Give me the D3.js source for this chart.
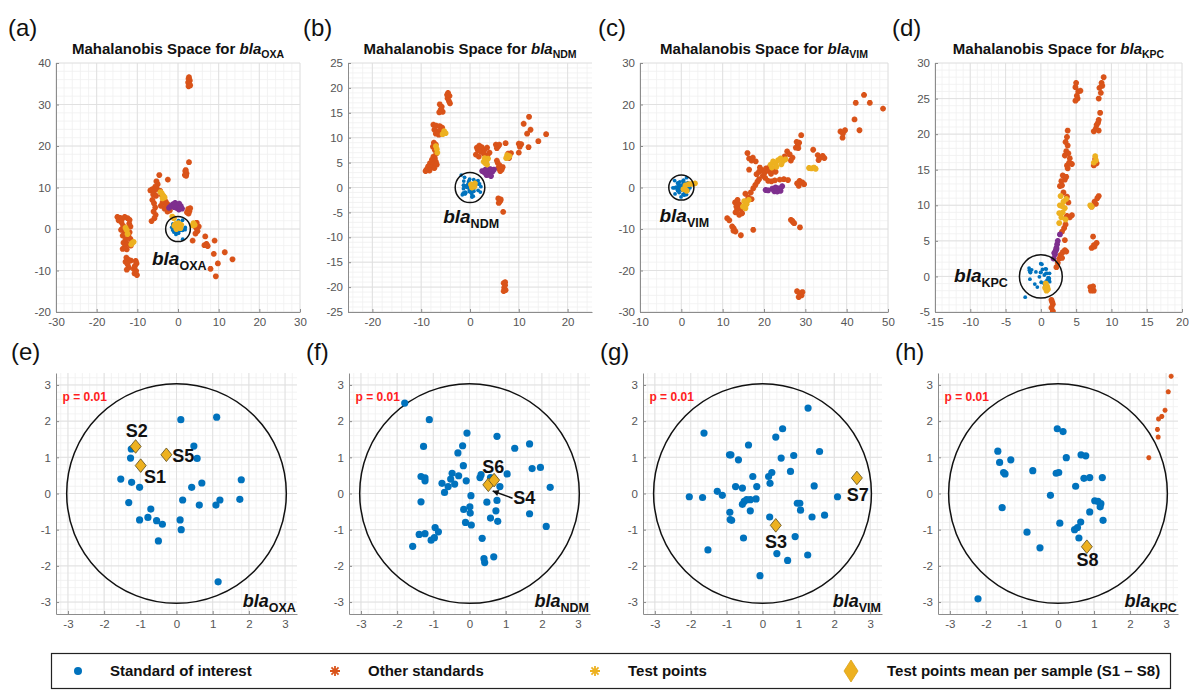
<!DOCTYPE html>
<html><head><meta charset="utf-8">
<script src="https://cdn.jsdelivr.net/npm/d3@7"></script>
<style>
body{margin:0;background:#fff}
svg{display:block}
text{font-family:'Liberation Sans',Arial,Helvetica,sans-serif}
</style>
</head><body>
<svg id="c" width="1189" height="691"></svg>
<script>
// ---------------- DATA ----------------
// Standard of interest (blue), Mahalanobis coordinates (same points in top & bottom views)
const blueOXA = [[0.12,2.04],[1.11,2.11],[-1.25,1.23],[-1.27,0.98],[0.48,1.31],[0.57,0.97],[-1.54,0.40],[-1.24,0.31],[-1.02,0.17],[0.42,0.17],[0.70,0.29],[1.79,0.38],[0.17,-0.18],[0.63,-0.32],[1.09,-0.32],[1.20,-0.18],[1.75,-0.16],[-1.32,-0.25],[-0.71,-0.43],[-1.02,-0.73],[-0.79,-0.66],[-0.55,-0.75],[-0.39,-0.85],[0.10,-0.73],[0.13,-1.00],[-0.50,-1.31],[1.15,-2.44]];
const blueNDM = [[-1.79,2.50],[-1.11,2.04],[-0.07,1.67],[0.76,1.58],[-1.27,1.30],[-0.19,1.32],[-0.32,1.12],[1.25,1.25],[1.66,1.37],[-0.17,0.77],[1.73,0.69],[1.96,0.72],[-1.34,0.47],[-1.23,0.43],[-1.23,0.35],[-0.48,0.56],[-0.30,0.49],[-0.52,0.40],[-0.41,0.26],[-0.59,0.19],[-0.76,0.28],[-0.69,0.03],[-0.09,0.35],[0.29,0.44],[0.32,0.52],[0.58,0.44],[1.04,0.54],[0.84,0.19],[2.23,0.17],[0.04,-0.06],[-1.34,-0.23],[0.48,-0.24],[0.76,-0.19],[0.01,-0.37],[-0.16,-0.44],[0.02,-0.54],[0.73,-0.48],[1.66,-0.56],[0.58,-0.68],[0.78,-0.77],[-0.11,-0.80],[0.05,-0.87],[2.12,-0.91],[-0.95,-0.94],[-0.86,-1.06],[-1.39,-1.13],[-1.23,-1.11],[-0.97,-1.22],[-1.06,-1.29],[0.35,-1.24],[-1.57,-1.46],[0.40,-1.80],[0.42,-1.91],[0.67,-1.75]];
const blueVIM = [[1.27,2.36],[-1.63,1.67],[0.56,1.79],[0.37,1.56],[-0.39,1.34],[-0.92,1.07],[-0.88,1.07],[-0.67,0.93],[0.52,0.98],[0.87,1.05],[1.59,1.16],[0.78,0.61],[-0.27,0.47],[0.26,0.58],[0.17,0.47],[0.21,0.28],[-0.16,0.19],[-0.75,0.19],[-0.56,0.15],[1.44,0.21],[-1.26,0.06],[-1.12,-0.05],[-2.04,-0.09],[-1.67,-0.11],[-0.44,-0.17],[-0.34,-0.17],[-0.18,-0.15],[-0.51,-0.22],[-0.56,-0.30],[2.09,-0.09],[0.97,-0.27],[1.04,-0.27],[1.06,-0.46],[-0.34,-0.48],[-0.91,-0.52],[-0.90,-0.72],[-0.86,-0.74],[0.20,-0.65],[1.38,-0.65],[1.73,-0.60],[-0.53,-1.23],[0.91,-1.19],[-1.52,-1.56],[0.40,-1.66],[0.70,-1.85],[1.26,-1.70],[-0.07,-2.27]];
const blueKPC = [[-0.02,1.79],[0.14,1.71],[-1.67,1.17],[-1.62,0.86],[-1.31,0.93],[0.23,0.99],[0.64,1.07],[0.77,1.04],[-1.51,0.58],[-1.47,0.54],[-0.70,0.63],[-0.05,0.56],[0.02,0.58],[0.72,0.42],[0.88,0.44],[1.23,0.44],[0.49,0.20],[-0.21,-0.05],[1.02,-0.20],[1.11,-0.22],[1.19,-0.28],[1.17,-0.37],[-1.55,-0.39],[0.88,-0.51],[1.25,-0.74],[0.05,-0.82],[0.63,-0.79],[-0.86,-1.07],[0.46,-1.00],[0.54,-0.94],[0.58,-1.23],[-0.50,-1.50],[-2.22,-2.91]];

// Other standards (orange asterisks), top panels
const otherOXA = [[2.6,36.2],[2.9,35.8],[2.5,35.3],[2.8,34.9],[2.6,34.4],[3.0,34.6],[2.7,36.6],[2.7,16.1],[1.8,13.9],[2.1,13.4],[1.7,13.0],[2.0,12.8],[1.9,14.2],
 [-4.6,13.0],[-2.5,11.9],[-5.3,11.5],[-5.0,10.8],[-5.6,10.2],[-6.3,9.6],[-6.8,9.3],[-5.9,9.0],[-5.2,9.7],[-4.4,9.2],[-6.1,8.3],[-5.4,8.0],[-4.0,8.2],[-3.4,7.2],[-3.0,6.6],[-2.6,6.0],[-2.2,5.3],[-3.8,6.4],[-4.2,5.6],[-6.3,7.0],[-5.9,6.2],[-5.6,5.2],[-6.0,4.2],[-5.5,3.4],[-5.8,2.6],[-6.5,1.9],[-3.0,5.4],[-2.0,4.5],[-3.3,4.9],[-2.6,4.2],
 [2.5,4.8],[2.8,4.3],[2.6,3.7],[2.2,4.0],[3.0,5.0],[4.1,0.8],[4.5,0.2],[4.8,-0.5],[4.3,-1.1],[5.1,0.6],[4.6,1.5],[3.6,-2.8],
 [-14.9,2.9],[-14.3,2.7],[-13.7,2.5],[-13.1,2.9],[-12.4,2.6],[-11.9,2.2],[-14.6,2.1],[-13.9,1.6],[-12.0,1.3],[-11.7,0.6],[-13.5,0.8],[-14.0,-0.2],[-13.2,-1.0],[-11.9,-0.8],[-12.2,-1.7],[-13.6,-1.6],[-12.9,-2.5],[-11.7,-2.4],[-13.4,-3.3],[-12.4,-3.6],[-13.1,-4.3],[-12.6,-4.9],[-11.6,-4.0],[-13.6,-4.8],
 [-12.7,-6.9],[-12.2,-7.4],[-11.6,-7.6],[-12.9,-7.9],[-12.4,-8.5],[-10.4,-7.7],[-10.2,-8.3],[-10.6,-8.9],[-12.1,-9.3],[-12.6,-9.8],[-10.9,-9.6],[-10.3,-10.1],[-10.7,-10.7],[-10.1,-11.1],
 [6.7,-1.8],[6.5,-3.9],[7.3,-4.1],[7.0,-3.6],[9.0,-2.8],[8.8,-6.0],[11.5,-5.6],[13.4,-7.3],[8.0,-9.6],[9.8,-8.3],[9.3,-11.4]];
const otherNDM = [[-4.5,19.0],[-4.2,18.4],[-4.6,17.9],[-4.3,17.3],[-4.7,18.6],[-4.1,16.9],[-6.2,16.7],[-5.8,16.2],[-6.0,15.6],[-5.6,15.2],[-6.3,15.1],
 [-7.5,12.6],[-6.9,12.4],[-6.2,12.3],[-5.7,12.0],[-7.3,11.6],[-6.6,11.2],[-6.0,11.4],[-7.0,10.8],[-6.4,10.6],
 [-7.4,9.0],[-7.0,8.6],[-7.6,8.2],[-7.2,7.5],[-6.9,6.8],[-7.5,6.2],[-7.2,5.9],[-7.8,5.6],[-7.0,5.2],[-8.2,4.9],[-7.5,4.6],[-8.6,4.2],[-7.9,4.0],[-8.9,3.6],[-8.3,3.4],[-7.3,3.9],[-9.1,3.3],[-6.8,4.6],
 [1.4,8.0],[1.9,8.4],[2.4,8.1],[1.6,7.5],[2.2,7.2],[3.0,7.6],[1.2,6.6],[2.8,6.8],[3.5,8.0],[1.8,6.2],[3.6,6.5],[4.0,7.0],
 [5.3,8.6],[5.8,8.3],[6.0,8.6],[5.5,7.9],[5.7,4.9],[6.1,4.4],[5.8,3.9],[6.5,3.6],[6.2,3.3],[6.7,4.1],[5.5,5.4],
 [7.3,8.9],[8.4,6.9],[8.0,5.9],[7.8,6.8],[10.0,8.8],[10.5,8.7],[10.2,8.2],[10.0,7.0],[12.1,14.2],[11.0,12.8],[12.4,11.6],[11.7,10.8],[14.0,9.3],[15.6,10.7],[12.0,8.1],
 [5.8,-2.2],[6.2,-2.7],[5.9,-3.1],[6.3,-2.4],[6.8,-4.9],[6.9,-19.2],[7.2,-19.6],[7.0,-20.1],[7.3,-20.6],[6.9,-20.8],[7.2,-19.0]];
const otherVIM = [[11.1,-7.4],[11.6,-7.9],[12.3,-9.4],[12.7,-9.9],[13.1,-10.6],[12.6,-10.4],[14.4,-11.5],
 [13.0,-3.6],[13.6,-3.0],[14.0,-4.0],[13.3,-4.6],[14.4,-5.2],[13.1,-6.0],[14.0,-6.6],[14.7,-6.2],[13.5,-5.4],[17.4,-10.2],
 [16.0,8.3],[16.4,7.0],[17.0,6.5],[17.3,7.2],[16.4,4.3],[18.0,6.3],
 [15.5,-1.5],[16.2,-2.4],[16.8,-1.2],[17.4,-0.2],[17.9,0.6],[18.4,1.4],[18.8,2.0],[17.0,-2.8],[15.8,-3.3],
 [18.2,3.2],[18.8,3.8],[19.5,4.2],[20.1,3.5],[20.5,4.6],[21.1,4.0],[21.7,3.3],[22.3,4.4],[22.8,3.8],[19.7,2.8],[21.4,5.0],[20.3,2.3],[19.0,4.8],
 [21.0,1.6],[21.8,1.5],[22.6,1.7],[23.8,1.9],[24.8,2.0],[25.8,1.8],
 [25.6,8.7],[26.2,8.0],[26.9,7.2],[26.5,6.5],[25.0,7.5],[27.7,9.6],[28.2,10.3],[28.5,10.8],[27.9,11.0],[28.3,9.5],[29.0,12.6],
 [28.0,1.0],[28.6,1.6],[29.3,1.2],[29.7,0.8],[28.4,0.4],[26.5,-7.8],[27.0,-8.3],[27.3,-8.6],[26.8,-8.0],[28.7,-9.6],
 [28.0,-25.0],[28.6,-25.5],[29.1,-26.0],[28.4,-26.4],[29.3,-25.2],
 [31.9,9.1],[33.0,7.8],[33.6,7.2],[34.2,7.6],[34.6,7.1],[33.2,6.6],[38.5,13.5],[39.1,13.0],[39.6,13.8],[39.0,12.0],
 [41.9,16.4],[43.1,13.8],[42.2,20.4],[44.2,22.3],[45.6,20.4],[48.8,19.0]];
const otherKPC = [[1.5,-3.3],[1.7,-3.9],[1.5,-4.4],[1.7,-4.9],[1.6,-3.6],
 [2.2,1.3],[2.4,1.9],[2.6,2.5],[2.8,3.0],[3.1,3.4],[3.4,3.7],[3.0,2.6],[3.6,3.5],[3.4,5.1],[3.0,6.3],[3.3,6.8],[3.5,7.3],
 [3.7,8.5],[4.1,8.3],[4.4,8.6],[3.9,10.4],[3.7,11.2],[3.2,11.8],[2.7,12.7],[3.0,12.8],[3.4,13.6],[3.1,14.2],[3.6,14.0],[2.9,13.4],
 [3.7,15.6],[4.0,16.0],[4.4,15.8],[4.1,16.6],[3.8,15.2],[3.4,17.0],[3.6,17.6],[3.8,18.4],[3.5,18.9],[3.7,19.6],[3.8,20.5],[3.9,17.3],
 [4.9,24.7],[5.1,25.4],[5.3,26.0],[4.9,26.6],[5.0,27.2],[5.2,25.0],[5.6,26.1],
 [8.2,25.0],[8.5,25.8],[8.3,26.5],[8.6,27.2],[8.9,28.0],[8.7,26.8],[7.9,21.3],[8.2,22.0],[8.4,23.0],[8.1,21.6],[7.5,20.4],[7.8,20.8],[8.2,20.5],
 [7.5,15.6],[7.9,15.9],[7.7,16.5],[7.2,9.8],[7.6,10.5],[8.0,11.0],[8.2,11.3],[7.8,10.2],
 [7.2,4.0],[7.5,4.4],[7.9,4.7],[7.4,5.6],[7.6,4.2],[7.0,-1.5],[7.3,-1.7],[7.5,-2.0],[7.1,-2.0],[7.4,-1.4]];
// Other standards visible in bottom zoom (h)
const otherKPCzoom = [[2.52,0.99],[2.78,1.56],[2.76,1.77],[2.79,2.06],[2.88,2.13],[2.97,2.30],[3.06,2.81],[3.14,3.24]];

// Test points (yellow asterisks)
const testOXA = [[-4.0,8.6],[-3.6,8.0],[-3.8,7.4],[-4.3,8.9],[-3.3,7.6],[-1.4,3.0],[-1.0,2.6],[-0.6,1.2],[-0.2,0.5],[0.3,0.9],[0.6,0.2],[-0.4,0.0],[0.1,1.4],[-0.9,0.8],[0.8,1.0],[3.8,1.4],[4.1,1.0],[3.6,0.9],[-12.9,0.3],[-12.6,-0.3],[-12.4,-1.2],[-11.2,-3.3],[-11.5,-3.7],[-10.9,-3.1]];
const testNDM = [[-5.3,11.3],[-5.0,10.9],[-5.6,10.7],[-7.0,8.3],[-6.8,7.7],[-6.7,7.0],[3.0,5.9],[3.4,5.4],[3.1,4.9],[3.7,5.8],[2.8,5.2],[3.5,4.6],[7.6,6.5],[7.8,6.0],[7.4,5.9],[8.1,6.3],[0.6,0.5],[0.9,0.2],[0.4,0.0],[1.0,0.8],[0.2,0.6]];
const testVIM = [[21.6,5.5],[22.2,6.3],[22.8,5.8],[23.4,6.6],[24.0,7.0],[24.6,6.4],[25.2,6.8],[23.0,5.0],[21.9,4.8],[24.2,5.6],[15.2,-3.3],[15.8,-4.0],[16.3,-3.0],[14.9,-4.6],[15.5,-5.0],[30.9,4.7],[31.5,4.6],[32.1,4.8],[32.5,4.5],[1.0,0.5],[1.8,0.8],[2.6,0.9],[3.3,1.0],[0.5,-0.4],[1.3,-0.8]];
const testKPC = [[2.6,7.5],[2.9,8.3],[3.1,9.0],[3.4,9.6],[2.7,10.0],[3.2,10.5],[3.6,10.9],[2.8,11.3],[3.5,8.0],[3.0,9.9],[2.6,8.9],[7.5,16.0],[7.7,16.9],[7.8,16.3],[7.0,10.0],[7.2,9.8],[0.7,-1.0],[0.9,-1.4],[1.0,-1.8],[0.6,-1.6],[0.8,-2.0]];

// Purple asterisks (unlabelled group)
const purpleOXA = [[-2.2,5.1],[-1.7,5.6],[-1.2,6.0],[-0.7,6.3],[-0.2,5.8],[0.3,6.1],[0.7,5.5],[1.0,4.9],[-0.4,5.1],[0.2,4.7],[-1.0,5.3],[0.5,5.0]];
const purpleNDM = [[2.5,3.3],[3.0,3.0],[3.6,3.4],[4.1,3.7],[4.6,3.2],[3.8,2.6],[4.3,2.3],[3.4,2.5],[4.9,3.6],[3.2,3.6]];
const purpleVIM = [[20.4,-0.6],[21.0,-0.7],[22.0,-0.3],[22.5,-0.9],[23.0,-0.5],[23.5,-0.2],[24.0,-0.8],[24.4,0.3],[23.2,-1.0],[22.8,0.0]];
const purpleKPC = [[1.8,2.5],[2.0,3.1],[2.1,3.6],[2.2,4.0],[2.3,4.5],[2.4,5.0],[2.7,5.9],[1.9,3.3],[2.2,3.8]];

// Test point means per sample (diamonds)
const meanNamesOXA = ['S1','S2','S5'];
const meansOXA = [[-0.99,0.77],[-1.13,1.30],[-0.28,1.07]];
const meanLabelsOXA = [[-0.90,0.30],[-1.40,1.55],[-0.12,0.86]];
const meanNamesNDM = ['S4','S6'];
const meansNDM = [[0.52,0.24],[0.68,0.37]];
const meanLabelsNDM = [[1.21,-0.30],[0.35,0.58]];
const meanNamesVIM = ['S3','S7'];
const meansVIM = [[0.37,-0.88],[2.63,0.43]];
const meanLabelsVIM = [[0.07,-1.50],[2.35,-0.20]];
const meanNamesKPC = ['S8'];
const meansKPC = [[0.80,-1.47]];
const meanLabelsKPC = [[0.51,-2.00]];
const arrowNDM = [[1.19,-0.13],[0.64,0.07]];

// Axis ticks
const ticksA_x = [-30,-20,-10,0,10,20,30], ticksA_y = [-20,-10,0,10,20,30,40];
const ticksB_x = [-20,-10,0,10,20], ticksB_y = [-25,-20,-15,-10,-5,0,5,10,15,20,25];
const ticksC_x = [-10,0,10,20,30,40,50], ticksC_y = [-30,-20,-10,0,10,20,30];
const ticksD_x = [-15,-10,-5,0,5,10,15,20], ticksD_y = [-5,0,5,10,15,20,25,30];
const ticksZoom = [-3,-2,-1,0,1,2,3];

const threshold = 3.035;   // p = 0.01 radius
const legendLabels = ['Standard of interest','Other standards','Test points','Test points mean per sample (S1 \u2013 S8)'];

// ---------------- STYLE / LAYOUT ----------------
const C = {blue:'#0072BD', orange:'#D95319', yellow:'#EDB120', purple:'#7E2F8E'};
const svg = d3.select('#c');
let clipId = 0;

function ast(r){ const d=r*0.7071; return `M${-r},0H${r}M0,${-r}V${r}M${-d},${-d}L${d},${d}M${-d},${d}L${d},${-d}`; }
function diamond(w,h){ return `M0,${-h}L${w},0L0,${h}L${-w},0Z`; }

function gridVals(d, step){
  const a=[]; const n0=Math.ceil(d[0]/step-1e-9), n1=Math.floor(d[1]/step+1e-9);
  for(let i=n0;i<=n1;i++) a.push(+(i*step).toFixed(6));
  return a;
}

function makeAxes(p){
  const g = svg.append('g');
  const x = d3.scaleLinear().domain(p.xd).range([p.l,p.r]);
  const y = d3.scaleLinear().domain(p.yd).range([p.b,p.t]);
  g.append('g').selectAll('line').data(gridVals(p.xd,p.mx)).join('line')
    .attr('x1',d=>x(d)).attr('x2',d=>x(d)).attr('y1',p.t).attr('y2',p.b)
    .attr('stroke','#f0f0f0').attr('stroke-width',0.8);
  g.append('g').selectAll('line').data(gridVals(p.yd,p.my)).join('line')
    .attr('y1',d=>y(d)).attr('y2',d=>y(d)).attr('x1',p.l).attr('x2',p.r)
    .attr('stroke','#f0f0f0').attr('stroke-width',0.8);
  g.append('g').selectAll('line').data(p.xt).join('line')
    .attr('x1',d=>x(d)).attr('x2',d=>x(d)).attr('y1',p.t).attr('y2',p.b)
    .attr('stroke','#dfdfdf').attr('stroke-width',0.9);
  g.append('g').selectAll('line').data(p.yt).join('line')
    .attr('y1',d=>y(d)).attr('y2',d=>y(d)).attr('x1',p.l).attr('x2',p.r)
    .attr('stroke','#dfdfdf').attr('stroke-width',0.9);
  const ax = g.append('g').attr('transform',`translate(0,${p.b})`)
    .call(d3.axisBottom(x).tickValues(p.xt).tickSizeInner(-3).tickSizeOuter(0).tickPadding(6).tickFormat(d3.format('d')));
  const ay = g.append('g').attr('transform',`translate(${p.l},0)`)
    .call(d3.axisLeft(y).tickValues(p.yt).tickSizeInner(-3).tickSizeOuter(0).tickPadding(5).tickFormat(d3.format('d')));
  [ax,ay].forEach(a=>{
    a.select('.domain').attr('stroke','#8c8c8c').attr('stroke-width',1);
    a.selectAll('.tick line').attr('stroke','#8c8c8c');
    a.selectAll('.tick text').attr('fill','#555').attr('font-size','11.5px')
      .attr('font-family',"'Liberation Sans',Arial,sans-serif")
      .text(d=>String(d));
  });
  const id='clip'+(clipId++);
  svg.append('clipPath').attr('id',id).append('rect')
    .attr('x',p.l).attr('y',p.t).attr('width',p.r-p.l).attr('height',p.b-p.t);
  const plot = svg.append('g').attr('clip-path',`url(#${id})`);
  svg.append('text').attr('x',p.lab[0]).attr('y',p.lab[1]).attr('font-size','24px').attr('fill','#111').text(p.letter);
  return {x,y,plot};
}

function blaText(sel, sub, size, subSize){
  sel.append('tspan').attr('font-style','italic').attr('font-weight','bold').attr('font-size',size+'px').text('bla');
  sel.append('tspan').attr('font-weight','bold').attr('font-size',subSize+'px').attr('dy',subSize*0.38).text(sub);
}

function drawTop(p){
  const {x,y,plot} = makeAxes(p);
  const stars = (data,color)=> plot.append('g').selectAll('path').data(data).join('path')
      .attr('d',ast(2.9)).attr('transform',d=>`translate(${x(d[0])},${y(d[1])})`)
      .attr('fill','none').attr('stroke',color).attr('stroke-width',1.9);
  stars(p.other, C.orange);
  stars(p.purple, C.purple);
  plot.append('g').selectAll('circle').data(p.blue).join('circle')
    .attr('cx',d=>x(d[0])).attr('cy',d=>y(d[1])).attr('r',1.9).attr('fill',C.blue);
  stars(p.test, C.yellow);
  plot.append('ellipse').attr('cx',x(0)).attr('cy',y(0))
    .attr('rx',x(threshold)-x(0)).attr('ry',y(0)-y(threshold))
    .attr('fill','none').attr('stroke','#111').attr('stroke-width',1.5);
  const t = svg.append('text').attr('x',(p.l+p.r)/2).attr('y',54).attr('text-anchor','middle')
    .attr('font-size','15px').attr('font-weight','bold').attr('fill','#111');
  t.append('tspan').text('Mahalanobis Space for ');
  blaText(t, p.sub, 15, 10.5);
  const lt = svg.append('text').attr('x',x(p.blaPos[0])).attr('y',y(p.blaPos[1])).attr('fill','#111');
  blaText(lt, p.sub, 19, 12.5);
}

function drawBottom(p){
  const {x,y,plot} = makeAxes(p);
  plot.append('ellipse').attr('cx',x(0)).attr('cy',y(0))
    .attr('rx',x(threshold)-x(0)).attr('ry',y(0)-y(threshold))
    .attr('fill','none').attr('stroke','#111').attr('stroke-width',1.5);
  if(p.other){
    plot.append('g').selectAll('path').data(p.other).join('path')
      .attr('d',ast(2.5)).attr('transform',d=>`translate(${x(d[0])},${y(d[1])})`)
      .attr('fill','none').attr('stroke',C.orange).attr('stroke-width',1.6);
  }
  plot.append('g').selectAll('circle').data(p.blue).join('circle')
    .attr('cx',d=>x(d[0])).attr('cy',d=>y(d[1])).attr('r',3.6).attr('fill',C.blue);
  plot.append('g').selectAll('path').data(p.means).join('path')
    .attr('d',diamond(5.5,6.8)).attr('transform',d=>`translate(${x(d[0])},${y(d[1])})`)
    .attr('fill',C.yellow).attr('stroke','#5a4a1a').attr('stroke-width',0.8);
  svg.append('g').selectAll('text').data(p.meanLabels).join('text')
    .attr('x',d=>x(d[0])).attr('y',d=>y(d[1])).attr('font-size','18px').attr('font-weight','bold').attr('fill','#111')
    .text((d,i)=>p.meanNames[i]);
  if(p.arrow){
    const [a,b]=p.arrow;
    const x1=x(a[0]),y1=y(a[1]),x2=x(b[0]),y2=y(b[1]);
    plot.append('line').attr('x1',x1).attr('y1',y1).attr('x2',x2).attr('y2',y2)
      .attr('stroke','#111').attr('stroke-width',1.6);
    const ang=Math.atan2(y2-y1,x2-x1), L=6, W=3.2;
    const bx=x2-L*Math.cos(ang), by=y2-L*Math.sin(ang);
    plot.append('path').attr('d',`M${x2},${y2}L${bx-W*Math.sin(ang)},${by+W*Math.cos(ang)}L${bx+W*Math.sin(ang)},${by-W*Math.cos(ang)}Z`).attr('fill','#111');
  }
  svg.append('text').attr('x',x(-3.15)).attr('y',y(2.56)).attr('font-size','12px').attr('font-weight','bold')
    .attr('fill','#ff2020').text('p = 0.01');
  const lt = svg.append('text').attr('x',x(3.3)).attr('y',y(-3.13)).attr('text-anchor','end').attr('fill','#111');
  blaText(lt, p.sub, 18, 12.5);
}

const T=63, B=312;
drawTop({letter:'(a)',lab:[8,36],sub:'OXA',l:56,r:300,t:T,b:B,xd:[-30,30],yd:[-20,40],xt:ticksA_x,yt:ticksA_y,mx:2,my:2,
  other:otherOXA,test:testOXA,purple:purpleOXA,blue:blueOXA,blaPos:[-6.4,-8.7]});
drawTop({letter:'(b)',lab:[303,36],sub:'NDM',l:348,r:592,t:T,b:B,xd:[-25,25],yd:[-25,25],xt:ticksB_x,yt:ticksB_y,mx:2,my:1,
  other:otherNDM,test:testNDM,purple:purpleNDM,blue:blueNDM,blaPos:[-5.5,-7.1]});
drawTop({letter:'(c)',lab:[598,36],sub:'VIM',l:640,r:888,t:T,b:B,xd:[-10,50],yd:[-30,30],xt:ticksC_x,yt:ticksC_y,mx:2,my:2,
  other:otherVIM,test:testVIM,purple:purpleVIM,blue:blueVIM,blaPos:[-5.3,-8.4]});
drawTop({letter:'(d)',lab:[892,36],sub:'KPC',l:935,r:1182,t:T,b:B,xd:[-15,20],yd:[-5,30],xt:ticksD_x,yt:ticksD_y,mx:1,my:1,
  other:otherKPC,test:testKPC,purple:purpleKPC,blue:blueKPC,blaPos:[-12.3,-0.85]});

const ZD=[-3.33,3.33], BT=373, BB=614;
drawBottom({letter:'(e)',lab:[11,360],sub:'OXA',l:56,r:297,t:BT,b:BB,xd:ZD,yd:ZD,xt:ticksZoom,yt:ticksZoom,mx:0.2,my:0.2,
  blue:blueOXA,means:meansOXA,meanNames:meanNamesOXA,meanLabels:meanLabelsOXA});
drawBottom({letter:'(f)',lab:[306,360],sub:'NDM',l:349,r:590,t:BT,b:BB,xd:ZD,yd:ZD,xt:ticksZoom,yt:ticksZoom,mx:0.2,my:0.2,
  blue:blueNDM,means:meansNDM,meanNames:meanNamesNDM,meanLabels:meanLabelsNDM,arrow:arrowNDM});
drawBottom({letter:'(g)',lab:[600,360],sub:'VIM',l:643,r:882,t:BT,b:BB,xd:ZD,yd:ZD,xt:ticksZoom,yt:ticksZoom,mx:0.2,my:0.2,
  blue:blueVIM,means:meansVIM,meanNames:meanNamesVIM,meanLabels:meanLabelsVIM});
drawBottom({letter:'(h)',lab:[895,360],sub:'KPC',l:938,r:1178,t:BT,b:BB,xd:ZD,yd:ZD,xt:ticksZoom,yt:ticksZoom,mx:0.2,my:0.2,
  blue:blueKPC,means:meansKPC,meanNames:meanNamesKPC,meanLabels:meanLabelsKPC,other:otherKPCzoom});

// ---------------- LEGEND ----------------
const lg = svg.append('g');
lg.append('rect').attr('x',51.5).attr('y',653.5).attr('width',1119).attr('height',35)
  .attr('fill','#fff').attr('stroke','#222').attr('stroke-width',1.2);
const ly = 671;
const markerX = [78,335,595,851], textX = [110,368,628,887];
lg.append('circle').attr('cx',markerX[0]).attr('cy',ly).attr('r',4).attr('fill',C.blue);
lg.append('path').attr('d',ast(5)).attr('transform',`translate(${markerX[1]},${ly})`).attr('stroke',C.orange).attr('stroke-width',1.8).attr('fill','none');
lg.append('path').attr('d',ast(5)).attr('transform',`translate(${markerX[2]},${ly})`).attr('stroke',C.yellow).attr('stroke-width',1.8).attr('fill','none');
lg.append('path').attr('d',diamond(7,11)).attr('transform',`translate(${markerX[3]},${ly})`).attr('fill',C.yellow).attr('stroke','#d9a21a').attr('stroke-width',0.8);
lg.selectAll('text.lt').data(legendLabels).join('text').attr('class','lt')
  .attr('x',(d,i)=>textX[i]).attr('y',ly+5).attr('font-size','15px').attr('font-weight','bold').attr('fill','#111').text(d=>d);
</script>
</body></html>
